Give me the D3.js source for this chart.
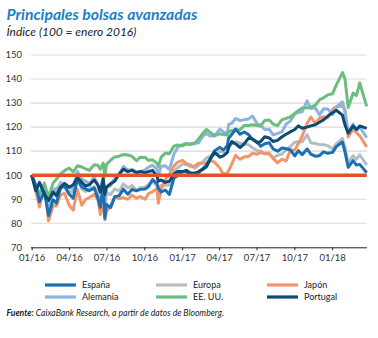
<!DOCTYPE html>
<html><head><meta charset="utf-8">
<script src="https://cdn.jsdelivr.net/npm/d3@7"></script>
<style>body{margin:0;background:#fff}svg{display:block}</style>
</head><body><svg id="c" width="378" height="338"></svg>
<script>
const dates = ["2016-01-01","2016-01-11","2016-01-20","2016-02-01","2016-02-11","2016-02-22","2016-03-01","2016-03-11","2016-03-21","2016-04-01","2016-04-11","2016-04-21","2016-05-02","2016-05-11","2016-05-20","2016-06-01","2016-06-10","2016-06-16","2016-06-23","2016-06-27","2016-07-01","2016-07-11","2016-07-21","2016-08-01","2016-08-11","2016-08-22","2016-09-01","2016-09-12","2016-09-21","2016-10-03","2016-10-11","2016-10-21","2016-11-01","2016-11-04","2016-11-11","2016-11-21","2016-12-01","2016-12-12","2016-12-21",
"2017-01-02","2017-01-11","2017-01-20","2017-02-01","2017-02-10","2017-02-21","2017-03-01","2017-03-10","2017-03-21","2017-04-03","2017-04-11","2017-04-21","2017-04-24","2017-05-02","2017-05-11","2017-05-22","2017-06-01","2017-06-12","2017-06-21","2017-07-03","2017-07-11","2017-07-21","2017-08-01","2017-08-10","2017-08-21","2017-09-01","2017-09-11","2017-09-21","2017-10-02","2017-10-11","2017-10-20","2017-11-01","2017-11-10","2017-11-21","2017-12-01","2017-12-11","2017-12-21",
"2018-01-02","2018-01-11","2018-01-26","2018-02-01","2018-02-09","2018-02-21","2018-03-01","2018-03-09","2018-03-26"];

const espana = [100,95.7,89.0,92.9,83.2,89.8,88.4,94.6,95.4,92.1,90.4,98.2,95.1,94.3,93.5,94.7,90.5,86.6,96.2,82.1,87.8,86.5,91.0,91.5,94.2,92.1,94.1,93.5,94.1,94.3,95.2,98.2,96.5,94.5,93.0,93.8,92.0,98.8,99.8,
101.5,101.5,100.6,101.0,101.1,102.8,104.1,106.9,110.2,111.6,110.5,112.2,115.4,117.0,119.2,117.0,118.0,116.8,115.0,113.8,112.0,113.1,113.5,111.0,110.0,111.3,111.0,110.6,108.0,110.2,108.5,110.9,108.8,107.9,108.1,109.7,109.1,
109.5,111.9,113.8,109.8,103.3,106.1,104.2,104.5,101.0];

const alemania = [100,95.5,91.3,94.9,85.1,93.1,94.5,95.6,96.7,95.2,94.2,101.5,98.4,97.6,96.4,99.2,95.6,92.9,99.7,90.1,95.1,95.6,98.8,100.5,103.6,102.1,102.4,101.4,101.5,102.2,103.3,104.2,102.4,99.8,103.7,103.9,102.4,108.8,111.5,
112.8,113.2,113.1,113.4,113.4,116.4,117.3,116.3,116.3,119.2,118.0,117.2,121.1,121.6,123.6,122.7,123.1,123.4,124.6,121.3,120.9,119.0,119.1,116.8,117.3,118.1,121.3,122.5,125.5,126.1,126.3,130.9,127.7,128.0,125.1,127.6,127.5,
125.2,128.4,130.5,126.5,117.7,121.3,118.5,120.1,115.6];

const europa = [100,95.8,90.1,94.8,84.7,94.5,93.3,97.1,96.3,93.3,92.8,99.2,94.2,93.2,94.3,95.2,92.8,87.3,96.0,85.2,92.6,91.9,94.3,93.3,96.4,94.7,95.7,93.6,94.9,94.9,96.2,97.3,95.7,93.3,95.7,95.8,95.8,101.7,103.0,
104.7,104.3,104.5,102.8,104.2,105.6,107.1,107.8,108.6,109.9,109.6,109.9,113.1,113.0,113.9,113.3,113.1,112.6,111.4,110.2,110.1,109.1,109.3,107.1,108.3,108.8,110.6,111.9,113.7,113.9,113.9,116.8,113.5,113.2,112.8,112.7,112.3,
110.9,113.0,115.2,111.8,105.1,108.1,106.6,108.5,104.2];

const eeuu = [100,95.5,92.4,96.4,90.9,96.7,98.3,100.5,101.9,103.0,101.4,103.9,103.4,102.6,102.0,104.3,104.1,102.5,105.0,99.4,104.5,106.2,107.6,107.9,108.6,108.4,107.8,106.0,107.5,107.4,106.2,106.4,104.9,103.6,107.5,109.2,108.9,112.1,112.6,
112.2,113.0,112.8,113.2,115.1,117.5,119.0,117.9,116.5,117.2,116.9,116.7,118.0,118.6,118.9,118.9,120.7,120.7,121.0,120.7,120.5,122.8,123.0,121.3,120.6,123.1,123.6,124.2,125.7,126.9,128.0,128.1,128.3,129.1,131.3,132.2,133.4,
133.9,137.5,142.7,140.2,128.2,134.2,133.1,138.4,128.6];

const japon = [100,93.3,86.8,96.8,81.0,87.3,87.2,91.8,92.4,87.6,85.4,94.1,87.5,89.9,90.7,91.9,90.0,83.6,88.0,81.5,85.0,87.2,91.1,90.2,90.7,90.0,91.7,90.4,91.1,90.0,92.3,93.1,94.5,88.3,94.2,98.1,100.3,103.8,105.4,
106.2,104.9,103.7,103.8,105.0,105.0,105.1,106.2,105.4,102.9,100.3,100.9,101.8,104.7,108.2,106.6,107.6,107.9,109.1,108.7,109.5,108.9,108.8,107.0,105.1,106.7,105.9,110.3,110.6,113.2,116.3,121.5,124.2,121.5,123.7,124.3,123.9,
127.4,128.5,128.8,127.3,115.9,119.1,117.7,116.4,111.7];

const portugal = [100,93.5,97.0,92.0,89.5,93.0,91.5,95.0,96.5,95.0,96.0,99.0,97.0,95.5,96.0,98.0,96.0,93.0,98.5,92.0,95.0,96.5,97.5,100.5,102.5,101.5,102.0,101.0,101.5,101.0,101.5,102.0,99.5,97.5,98.0,97.0,97.5,100.5,101.5,
101.5,102.0,101.0,100.5,101.5,102.5,103.5,106.5,109.5,107.5,108.0,109.5,111.5,114.0,113.0,111.5,113.0,115.5,115.0,113.5,114.0,116.0,115.5,114.0,114.5,116.0,117.0,118.0,119.0,120.5,119.5,120.0,120.5,121.0,122.0,123.0,124.5,
126.0,127.0,125.0,121.0,117.5,120.5,119.0,120.5,119.5];

const seriesNames = ["España","Alemania","Europa","EE. UU.","Japón","Portugal"];
const yTicks = [70,80,90,100,110,120,130,140,150];
const xTickDates = ["2016-01-01","2016-04-01","2016-07-01","2016-10-01","2017-01-01","2017-04-01","2017-07-01","2017-10-01","2018-01-01"];
const xTickLabels = ["01/16","04/16","07/16","10/16","01/17","04/17","07/17","10/17","01/18"];
const baseValue = 100;

const colors = {"España":"#1a70b3","Alemania":"#8db3e0","Europa":"#b5bdc1","EE. UU.":"#6cbd80","Japón":"#f2956b","Portugal":"#0c4b76"};
const valuesByName = {"España":espana,"Alemania":alemania,"Europa":europa,"EE. UU.":eeuu,"Japón":japon,"Portugal":portugal};
const drawOrder = ["Europa","Japón","Alemania","EE. UU.","España","Portugal"];

const svg = d3.select("#c");
const FONT = "Lato, 'Open Sans', sans-serif";
const parse = d3.utcParse("%Y-%m-%d");
const dts = dates.map(parse);

const x = d3.scaleUtc().domain([parse("2016-01-01"), parse("2018-03-26")]).range([31.7, 366.7]);
const y = d3.scaleLinear().domain([70,150]).range([247.3, 55]);

// gridlines
svg.append("g").selectAll("line").data(yTicks.filter(d=>d>70)).join("line")
  .attr("x1",31).attr("x2",367).attr("y1",d=>y(d)).attr("y2",d=>y(d))
  .attr("stroke","#d9d9d9").attr("stroke-width",1.1);

// y labels
svg.append("g").selectAll("text").data(yTicks).join("text")
  .attr("x",22).attr("y",d=>y(d)).attr("dy","0.35em").attr("text-anchor","end")
  .attr("font-family",FONT).attr("font-size",9.5).attr("fill","#333").text(d=>d);

// x axis
const xAxis = d3.axisBottom(x).tickValues(xTickDates.map(parse))
  .tickFormat((d,i)=>xTickLabels[i]).tickSize(3).tickPadding(4);
const gx = svg.append("g").attr("transform","translate(0,247.3)").call(xAxis);
gx.select(".domain").attr("d","M31,0.5H367").attr("stroke","#222");
gx.selectAll(".tick line").attr("stroke","#222");
gx.selectAll(".tick text").attr("font-family",FONT).attr("font-size",9.5).attr("fill","#333");

// lines
const line = d3.line().x((d,i)=>x(dts[i])).y(d=>y(d)).curve(d3.curveLinear);
const lg = svg.append("g");
drawOrder.forEach(n=>{
  lg.append("path").datum(valuesByName[n]).attr("d",line).attr("fill","none")
    .attr("stroke",colors[n]).attr("stroke-width",3).attr("stroke-linejoin","round");
});
// base line 100
svg.append("line").attr("x1",x(parse("2016-01-01"))).attr("x2",x(parse("2018-03-26")))
  .attr("y1",y(baseValue)).attr("y2",y(baseValue)).attr("stroke","#e4502a").attr("stroke-width",3.4);

// legend
const legendItems = [["España",45,285],["Europa",156,285],["Japón",267,285],["Alemania",45,297],["EE. UU.",156,297],["Portugal",267,297]];
const leg = svg.append("g");
legendItems.forEach(([n,lx,ly])=>{
  leg.append("line").attr("x1",lx).attr("x2",lx+31).attr("y1",ly).attr("y2",ly)
    .attr("stroke",colors[n]).attr("stroke-width",3.2);
  leg.append("text").attr("x",lx+37).attr("y",ly).attr("dy","0.35em")
    .attr("font-family",FONT).attr("font-size",9).attr("fill","#222").text(n);
});

function fit(sel, target){
  const len = sel.node().getComputedTextLength();
  const fs = +sel.attr("font-size");
  sel.attr("font-size", fs*target/len);
}
// title
const t = svg.append("text").attr("x",6.5).attr("y",20).attr("font-family",FONT)
  .attr("font-weight","bold").attr("font-style","italic").attr("font-size",15)
  .attr("fill","#1e7fc3").text("Principales bolsas avanzadas");
fit(t,191);
const st = svg.append("text").attr("x",6.5).attr("y",36).attr("font-family",FONT)
  .attr("font-style","italic").attr("font-size",12).attr("fill","#222")
  .text("Índice (100 = enero 2016)");
fit(st,130);
const ft = svg.append("text").attr("x",6.5).attr("y",316).attr("font-family",FONT)
  .attr("font-style","italic").attr("font-size",9).attr("fill","#222");
ft.append("tspan").attr("font-weight","bold").text("Fuente:");
ft.append("tspan").text(" CaixaBank Research, a partir de datos de Bloomberg.");
fit(ft,218);
</script></body></html>
